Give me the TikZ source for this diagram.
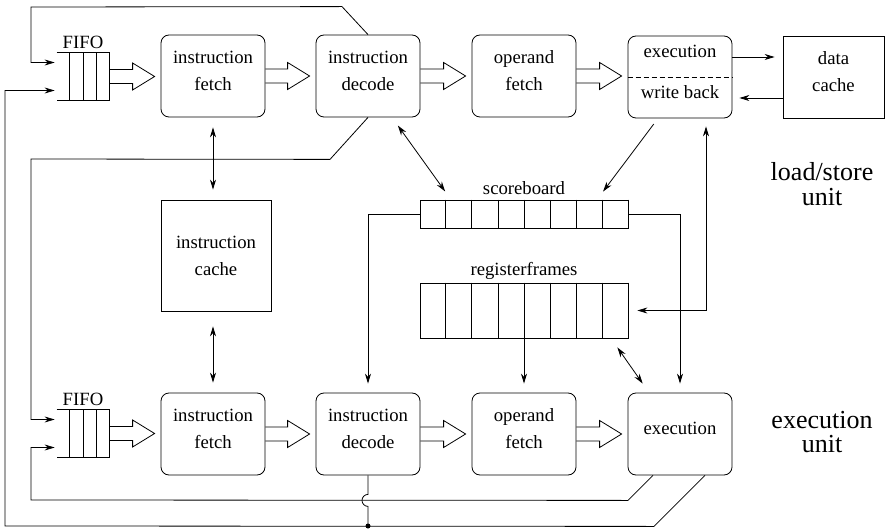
\documentclass[tikz,border=0pt]{standalone}
\usepackage{fontspec}
\setmainfont{Liberation Serif}
\usetikzlibrary{arrows.meta,calc,positioning}

\newcommand{\boxfont}{\fontsize{18.7pt}{27pt}\selectfont}
\newcommand{\lowstrut}{\rule[-11pt]{0pt}{11pt}}
% vertical cell lines inside a register node
\newcommand{\cells}[2]{%
  \foreach \i in {1,...,#2}
    \draw ($(#1.north west)!\i/#2!(#1.north east)$) -- ($(#1.south west)!\i/#2!(#1.south east)$);}
% hollow pipeline arrow from #1 to #2
\newcommand{\fatarrow}[2]{%
  \draw let \p1=(#1.east), \p2=(#2.west) in
    (\x1,\y1+7pt) -- (\x2-28pt,\y1+7pt) -- (\x2-28pt,\y1+13.5pt)
    -- (\x2-6pt,\y1) -- (\x2-28pt,\y1-13.5pt) -- (\x2-28pt,\y1-7pt) -- (\x1,\y1-7pt);}

\tikzstyle{stage} = [draw, rounded corners=8pt, minimum width=104pt, minimum height=82pt,
inner sep=0pt, align=center, font=\boxfont, execute at end node=\lowstrut]
\tikzstyle{store} = [draw, inner sep=0pt, align=center, font=\boxfont]
\tikzstyle{fifo} = [minimum width=52pt, minimum height=47pt, inner sep=0pt]
\tikzstyle{regs} = [draw, minimum width=208pt, inner sep=0pt]
\tikzstyle{title} = [inner sep=0pt, font=\boxfont]
\tikzstyle{unitlabel} = [align=center, inner sep=0pt, font=\fontsize{26pt}{24.5pt}\selectfont]
\tikzstyle{arrow} = [->]
\tikzset{>={Stealth[length=10pt,width=6pt]}}

\begin{document}
\begin{tikzpicture}[x=1pt, y=-1pt, line width=0.8pt]
\useasboundingbox (0,0) rectangle (885,529);

\node[fifo] (fifoA) at (83,76.5) {};
\node[stage] (fetchA) at (213,76) {instruction\\fetch};
\node[stage] (decodeA) at (368,76) {instruction\\decode};
\node[stage] (operandA) at (524,76) {operand\\fetch};
\node[stage, font=\fontsize{18.7pt}{41pt}\selectfont, execute at end node={}] (execA) at (680,77) {execution\\write back};
\node[store, minimum width=101pt, minimum height=82pt, execute at end node=\lowstrut] (dcache) at (833.5,77) {data\\cache};
\draw[dash pattern=on 5pt off 3pt] (execA.west) -- (execA.east);

\node[store, minimum width=110pt, minimum height=111pt] (icache) at (216,255.5) {instruction\\cache};
\node[regs, minimum height=28pt] (sb) at (524,214) {};
\node[regs, minimum height=55pt] (rf) at (524,310.5) {};

\node[fifo] (fifoB) at (83,433.5) {};
\node[stage] (fetchB) at (213,434) {instruction\\fetch};
\node[stage] (decodeB) at (368,434) {instruction\\decode};
\node[stage] (operandB) at (524,434) {operand\\fetch};
\node[stage] (execB) at (680,434) {execution};

\node[title, above=4pt of fifoA] (fifoAlabel) {FIFO};
\node[title, above=4pt of fifoB] (fifoBlabel) {FIFO};
\node[title, above=5pt of sb] (sblabel) {scoreboard};
\node[title, above=3pt of rf] (rflabel) {registerframes};
\node[unitlabel] (lsu) at (822,184) {load/store\\unit};
\node[unitlabel] (eu) at (822,432) {execution\\unit};

\foreach \f in {fifoA,fifoB} {
  \draw (\f.north west) -- (\f.north east) -- (\f.south east) -- (\f.south west);
  \cells{\f}{4}
}
\cells{sb}{8}
\cells{rf}{8}

\fatarrow{fifoA}{fetchA}
\fatarrow{fetchA}{decodeA}
\fatarrow{decodeA}{operandA}
\fatarrow{operandA}{execA}
\fatarrow{fifoB}{fetchB}
\fatarrow{fetchB}{decodeB}
\fatarrow{decodeB}{operandB}
\fatarrow{operandB}{execB}

\coordinate (top) at (31,7);
\coordinate (mid) at (31,159);
\coordinate (inner) at (31,500);
\coordinate (outer) at (5,526);
\coordinate (tap) at (decodeB.south |- outer);

\draw[arrow, shorten >=2pt] (decodeA.north) -- ++(-26,-28) -- (top) |- ($(fifoA.west)+(0,-14)$);
\draw[arrow, shorten >=2pt] (decodeA.south) -- ++(-38,42) -- (mid) |- ($(fifoB.west)+(0,-14)$);
\draw[arrow, shorten >=2pt] ([xshift=-27pt]execB.south) -- ++(-25,25) -- (inner) |- ($(fifoB.west)+(0,14)$);
\draw[arrow, shorten >=2pt] ([xshift=25pt]execB.south) -- ++(-51,51) -- (outer) |- ($(fifoA.west)+(0,14)$);
\draw (decodeB.south) -- ++(0,19) arc[start angle=270, end angle=90, radius=6] -- (tap);
\fill (tap) circle (2.5);

\draw[arrow, shorten >=8pt] ($(execA.east)+(0,-20)$) -- ($(dcache.west)+(0,-20)$);
\draw[arrow, shorten >=7pt] ($(dcache.west)+(0,21)$) -- ($(execA.east)+(0,21)$);

\draw[<->, shorten <=10pt, shorten >=10pt] (fetchA.south) -- (fetchA.south |- icache.north);
\draw[<->, shorten <=15pt, shorten >=10pt] (fetchB.north |- icache.south) -- (fetchB.north);
\draw[<->, shorten <=10pt, shorten >=10pt] ([xshift=24pt]decodeA.south) -- ([xshift=-73pt]sb.north);
\draw[arrow, shorten <=7pt, shorten >=10pt] ([xshift=-22pt]execA.south) -- ([xshift=73pt]sb.north);
\draw[<->, shorten <=8pt, shorten >=9pt] ([xshift=26pt]execA.south) |- (rf.east);
\draw[<->, shorten <=11pt, shorten >=11pt] ([xshift=87pt]rf.south) -- ([xshift=-31pt]execB.north);
\draw[arrow, shorten >=9pt] (sb.west) -| (decodeB.north);
\draw[arrow, shorten >=9pt] (sb.east) -| (execB.north);
\draw[arrow, shorten >=9pt] (rf.south) -- (operandB.north);
\end{tikzpicture}
\end{document}
